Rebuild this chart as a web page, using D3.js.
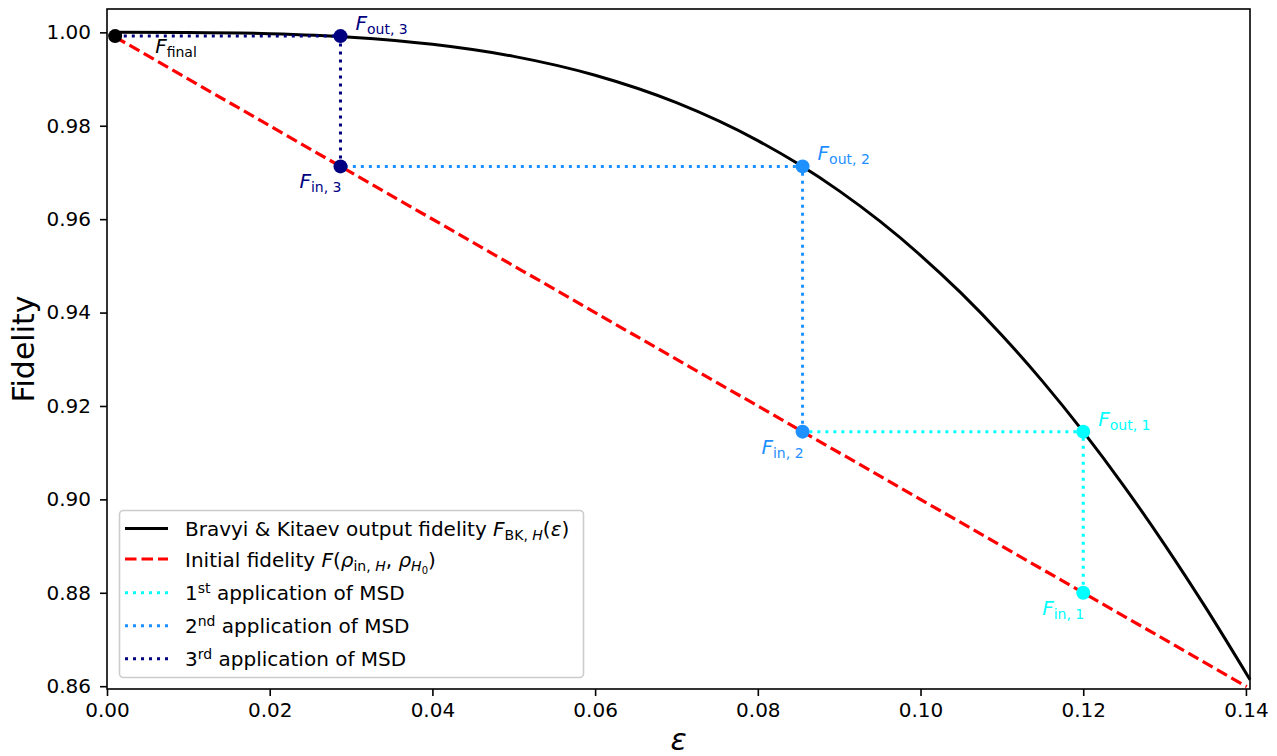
<!DOCTYPE html>
<html>
<head>
<meta charset="utf-8">
<script src="https://cdn.jsdelivr.net/npm/d3@7"></script>
<style>
  html, body { margin: 0; padding: 0; background: #fff; }
  text { font-family: "DejaVu Sans", sans-serif; white-space: pre; }
</style>
</head>
<body>
<svg id="chart" width="1277" height="756"></svg>
<script>
// ---------------- data ----------------
const epsBK = [0.001, 0.01, 0.02, 0.03, 0.04, 0.05, 0.06, 0.07, 0.08, 0.085, 0.09, 0.095, 0.10, 0.105, 0.11, 0.115, 0.12, 0.125, 0.13, 0.135, 0.1405];
const fidBK = [1.0000, 0.99996, 0.99971, 0.99897, 0.99745, 0.99486, 0.99082, 0.98495, 0.97683, 0.97180, 0.96606, 0.95957, 0.95227, 0.94415, 0.93515, 0.92527, 0.91450, 0.90285, 0.89033, 0.87698, 0.8614];
const epsInit = [0.001, 0.1401];
const fidInit = [0.999, 0.8599];

const rounds = ["1", "2", "3"];
const roundSup = ["st", "nd", "rd"];
const epsIn = [0.12, 0.0855, 0.0287];
const fidIn = [0.88, 0.9145, 0.9713];
const fidOut = [0.9145, 0.9713, 0.9992];
const epsFinal = 0.001;
const fidFinal = 0.9992;
const roundColors = ["#00ffff", "#1e90ff", "#000080"];

const xTicks = [0.00, 0.02, 0.04, 0.06, 0.08, 0.10, 0.12, 0.14];
const yTicks = [0.86, 0.88, 0.90, 0.92, 0.94, 0.96, 0.98, 1.00];

// ---------------- layout ----------------
const W = 1277, H = 756;
const L = 107, R = 1250, T = 9, B = 689;
const FS = 20;

const svg = d3.select("#chart");
const x = d3.scaleLinear().domain([0, 0.1405]).range([L, R]);
const y = d3.scaleLinear().domain([0.8594, 1.005]).range([B, T]);

// rich text helper: parts = [{t, i (italic), lvl: 0|1|2|'sup'}]
function rich(g, px, py, parts, size, color, anchor) {
  const txt = g.append("text").attr("x", px).attr("y", py)
    .attr("fill", color).attr("font-size", size)
    .attr("text-anchor", anchor || "start");
  let cur = 0;
  parts.forEach(p => {
    const lvl = p.lvl || 0;
    let off = 0, sz = size;
    if (lvl === 1) { off = 0.2 * size; sz = 0.7 * size; }
    else if (lvl === 2) { off = 0.36 * size; sz = 0.5 * size; }
    else if (lvl === "sup") { off = -0.38 * size; sz = 0.7 * size; }
    txt.append("tspan").attr("dy", off - cur).attr("font-size", sz)
      .attr("font-style", p.i ? "italic" : "normal").text(p.t);
    cur = off;
  });
  return txt;
}

// ---------------- curves ----------------
const bkData = epsBK.map((e, k) => [e, fidBK[k]]);
const initData = epsInit.map((e, k) => [e, fidInit[k]]);
const line = d3.line().x(d => x(d[0])).y(d => y(d[1])).curve(d3.curveMonotoneX);

svg.append("path").datum(bkData).attr("d", line)
  .attr("fill", "none").attr("stroke", "#000").attr("stroke-width", 3);
svg.append("path").datum(initData).attr("d", d3.line().x(d => x(d[0])).y(d => y(d[1])))
  .attr("fill", "none").attr("stroke", "#ff0000").attr("stroke-width", 3.2)
  .attr("stroke-dasharray", "11.5,5");

// dotted MSD steps
const nextEps = epsIn.slice(1).concat([epsFinal]);
rounds.forEach((r, k) => {
  const pts = [[epsIn[k], fidIn[k]], [epsIn[k], fidOut[k]], [nextEps[k], fidOut[k]]];
  svg.append("path").datum(pts).attr("d", d3.line().x(d => x(d[0])).y(d => y(d[1])))
    .attr("fill", "none").attr("stroke", roundColors[k]).attr("stroke-width", 3)
    .attr("stroke-dasharray", "3,5");
});

// markers
rounds.forEach((r, k) => {
  svg.append("circle").attr("cx", x(epsIn[k])).attr("cy", y(fidIn[k])).attr("r", 7).attr("fill", roundColors[k]);
  svg.append("circle").attr("cx", x(epsIn[k])).attr("cy", y(fidOut[k])).attr("r", 7).attr("fill", roundColors[k]);
});
svg.append("circle").attr("cx", x(epsFinal)).attr("cy", y(fidFinal)).attr("r", 7).attr("fill", "#000");

// point labels
const lab = svg.append("g");
rounds.forEach((r, k) => {
  rich(lab, x(epsIn[k]) + 15, y(fidOut[k]) - 6,
    [{t: "F", i: true}, {t: "out, " + r, lvl: 1}], FS, roundColors[k], "start");
  rich(lab, x(epsIn[k]) + 1, y(fidIn[k]) + 22,
    [{t: "F", i: true}, {t: "in, " + r, lvl: 1}], FS, roundColors[k], "end");
});
rich(lab, x(epsFinal) + 40, y(fidFinal) + 17,
  [{t: "F", i: true}, {t: "final", lvl: 1}], FS, "#000", "start");

// ---------------- axes ----------------
const xAxis = svg.append("g").attr("transform", `translate(0,${B})`)
  .call(d3.axisBottom(x).tickValues(xTicks).tickFormat(d3.format(".2f")).tickSize(7).tickPadding(7));
const yAxis = svg.append("g").attr("transform", `translate(${L},0)`)
  .call(d3.axisLeft(y).tickValues(yTicks).tickFormat(d3.format(".2f")).tickSize(7).tickPadding(9));
[xAxis, yAxis].forEach(a => {
  a.select(".domain").remove();
  a.selectAll(".tick line").attr("stroke", "#000").attr("stroke-width", 1.6);
  a.selectAll(".tick text").attr("font-size", FS).attr("fill", "#000")
    .attr("font-family", "DejaVu Sans");
});
svg.append("rect").attr("x", L).attr("y", T).attr("width", R - L).attr("height", B - T)
  .attr("fill", "none").attr("stroke", "#000").attr("stroke-width", 1.6);

// axis labels
svg.append("text").attr("x", (L + R) / 2).attr("y", 750).attr("text-anchor", "middle")
  .attr("font-size", 30).attr("font-style", "italic").text("ε");
svg.append("text").attr("transform", `translate(34,${(T + B) / 2}) rotate(-90)`)
  .attr("text-anchor", "middle").attr("font-size", 30).text("Fidelity");

// ---------------- legend ----------------
const lg = svg.append("g");
lg.append("rect").attr("x", 119.5).attr("y", 510.5).attr("width", 464).attr("height", 167)
  .attr("rx", 4).attr("fill", "#fff").attr("fill-opacity", 0.8)
  .attr("stroke", "#cccccc").attr("stroke-width", 1.6);

const legendRows = [
  {stroke: "#000", dash: null, y: 528.5,
   parts: [{t: "Bravyi & Kitaev output fidelity "}, {t: "F", i: true}, {t: "BK, ", lvl: 1}, {t: "H", i: true, lvl: 1}, {t: "("}, {t: "ε", i: true}, {t: ")"}]},
  {stroke: "#ff0000", dash: "11.5,5", y: 559,
   parts: [{t: "Initial fidelity "}, {t: "F", i: true}, {t: "("}, {t: "ρ", i: true}, {t: "in, ", lvl: 1}, {t: "H", i: true, lvl: 1}, {t: ", "}, {t: "ρ", i: true}, {t: "H", i: true, lvl: 1}, {t: "0", lvl: 2}, {t: ")"}]}
];
rounds.forEach((r, k) => {
  legendRows.push({stroke: roundColors[k], dash: "3,5", y: 592.8 + k * 33,
    parts: [{t: r}, {t: roundSup[k], lvl: "sup"}, {t: " application of MSD"}]});
});
legendRows.forEach(row => {
  lg.append("line").attr("x1", 125).attr("x2", 168).attr("y1", row.y).attr("y2", row.y)
    .attr("stroke", row.stroke).attr("stroke-width", 3)
    .attr("stroke-dasharray", row.dash);
  rich(lg, 185, row.y + 7.5, row.parts, FS, "#000", "start");
});
</script>
</body>
</html>
